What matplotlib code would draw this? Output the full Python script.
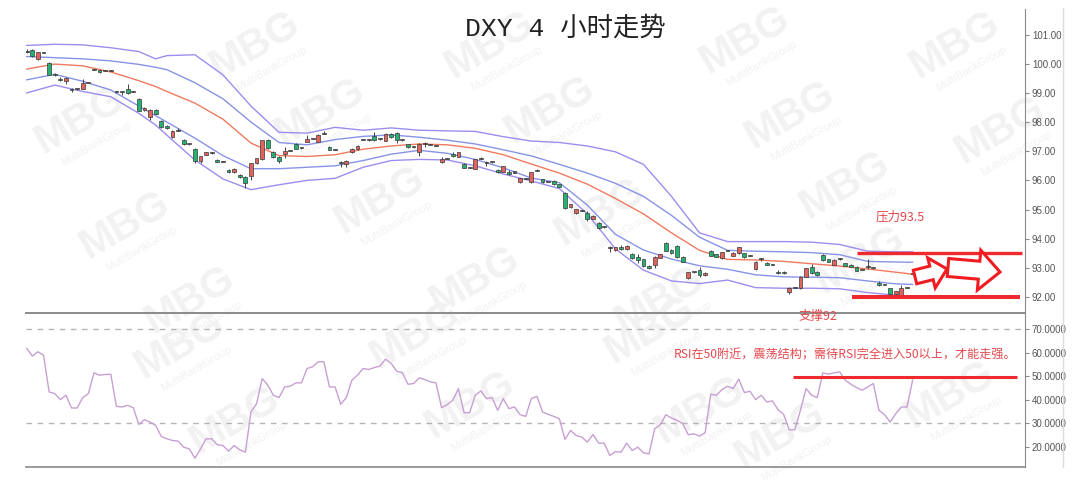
import numpy as np
import matplotlib
matplotlib.use("Agg")
import matplotlib.pyplot as plt
from matplotlib.lines import Line2D
from matplotlib.patches import Polygon

plt.rcParams['font.family'] = ['Liberation Sans', 'Noto Sans CJK SC']

# DXY 4H candles
opens = [100.44, 100.46, 100.16, 100.39, 100.03, 99.66, 99.48, 99.40, 99.12, 99.14,
         99.14, 99.35, 99.81, 99.80, 99.77, 99.77, 99.04, 99.03, 99.13, 99.04,
         98.79, 98.40, 98.19, 98.42, 98.04, 97.87, 97.48, 97.72, 97.39, 97.25,
         97.08, 96.65, 96.88, 96.94, 96.70, 96.65, 96.36, 96.28, 96.19, 96.10,
         96.15, 96.59, 96.74, 97.39, 96.96, 96.80, 96.90, 97.02, 97.24, 97.11,
         97.33, 97.44, 97.33, 97.61, 97.16, 97.06, 96.60, 96.56, 96.97, 97.07,
         97.40, 97.38, 97.53, 97.42, 97.36, 97.59, 97.64, 97.38, 97.24, 97.14,
         96.97, 97.25, 97.23, 97.20, 96.62, 96.75, 96.90, 96.81, 96.57, 96.45,
         96.40, 96.75, 96.60, 96.63, 96.36, 96.30, 96.30, 96.28, 95.94, 96.07,
         95.94, 96.34, 96.04, 95.95, 95.98, 95.87, 95.58, 95.07, 94.87, 94.97,
         94.89, 94.68, 94.55, 94.40, 93.68, 93.61, 93.70, 93.63, 93.49, 93.38,
         93.29, 93.06, 93.10, 93.35, 93.86, 93.61, 93.76, 93.38, 92.64, 92.85,
         92.92, 92.75, 93.58, 93.46, 93.33, 93.59, 93.41, 93.50, 93.50, 93.42,
         92.96, 93.30, 93.15, 93.11, 92.87, 92.87, 92.16, 92.33, 92.30, 92.70,
         93.04, 92.87, 93.44, 93.29, 93.10, 93.30, 93.15, 93.10, 93.04, 92.93,
         93.05, 92.99, 92.49, 92.42, 92.30, 92.10, 92.03, 92.33, 92.79]
closes = [100.42, 100.28, 100.39, 100.38, 99.63, 99.60, 99.44, 99.51, 99.10, 99.13,
          99.34, 99.37, 99.80, 99.72, 99.76, 99.76, 99.03, 99.02, 99.00, 99.03,
          98.39, 98.50, 98.42, 98.29, 97.83, 97.79, 97.70, 97.71, 97.24, 97.24,
          96.65, 96.82, 96.96, 96.93, 96.64, 96.64, 96.28, 96.40, 96.10, 95.92,
          96.59, 96.76, 97.37, 97.11, 96.80, 96.65, 97.01, 97.01, 97.09, 97.10,
          97.43, 97.43, 97.56, 97.60, 97.05, 97.05, 96.59, 96.68, 97.08, 97.19,
          97.39, 97.37, 97.37, 97.41, 97.59, 97.49, 97.39, 97.37, 97.13, 97.13,
          97.24, 97.24, 97.22, 97.19, 96.73, 96.74, 96.82, 96.96, 96.44, 96.44,
          96.73, 96.74, 96.59, 96.62, 96.28, 96.48, 96.22, 96.27, 96.07, 96.06,
          96.28, 96.33, 95.94, 95.94, 95.87, 95.79, 95.04, 95.18, 95.01, 94.96,
          94.67, 94.79, 94.36, 94.39, 93.67, 93.70, 93.63, 93.76, 93.33, 93.27,
          93.06, 92.98, 93.36, 93.46, 93.59, 93.50, 93.36, 93.21, 92.84, 92.84,
          92.75, 92.83, 93.41, 93.38, 93.53, 93.58, 93.52, 93.70, 93.36, 93.41,
          93.21, 93.29, 93.10, 93.10, 92.81, 92.81, 92.32, 92.32, 92.70, 92.98,
          92.81, 92.75, 93.27, 93.21, 93.27, 93.29, 93.07, 93.04, 92.90, 92.92,
          93.04, 92.98, 92.41, 92.41, 92.10, 92.20, 92.32, 92.32, 92.78]
highs = [100.50, 100.50, 100.41, 100.41, 100.05, 99.68, 99.55, 99.53, 99.18, 99.15,
         99.48, 99.38, 99.83, 99.82, 99.78, 99.78, 99.07, 99.04, 99.32, 99.05,
         98.81, 98.52, 98.44, 98.45, 98.06, 97.89, 97.72, 97.80, 97.41, 97.26,
         97.10, 96.84, 96.98, 96.96, 96.72, 96.66, 96.40, 96.42, 96.21, 96.14,
         96.61, 96.78, 97.40, 97.41, 97.02, 96.82, 97.15, 97.03, 97.27, 97.12,
         97.55, 97.45, 97.60, 97.68, 97.18, 97.07, 96.67, 96.70, 97.10, 97.21,
         97.41, 97.39, 97.65, 97.43, 97.61, 97.61, 97.67, 97.39, 97.26, 97.15,
         97.27, 97.30, 97.24, 97.21, 96.80, 96.76, 96.97, 96.98, 96.59, 96.46,
         96.75, 96.80, 96.67, 96.64, 96.38, 96.50, 96.35, 96.29, 96.09, 96.08,
         96.30, 96.40, 96.06, 95.96, 96.00, 95.89, 95.60, 95.20, 95.03, 95.00,
         94.95, 94.81, 94.57, 94.41, 93.76, 93.72, 93.77, 93.78, 93.51, 93.49,
         93.31, 93.08, 93.40, 93.48, 93.88, 93.63, 93.78, 93.40, 92.86, 92.86,
         93.04, 92.85, 93.62, 93.48, 93.55, 93.62, 93.54, 93.72, 93.52, 93.45,
         93.23, 93.35, 93.20, 93.12, 92.92, 92.89, 92.34, 92.34, 92.72, 93.00,
         93.12, 92.89, 93.47, 93.31, 93.29, 93.32, 93.17, 93.12, 93.06, 92.94,
         93.30, 93.00, 92.55, 92.43, 92.32, 92.22, 92.40, 92.34, 92.80]
lows = [100.38, 100.25, 100.12, 100.36, 99.60, 99.58, 99.42, 99.32, 99.02, 99.11,
        99.12, 99.34, 99.78, 99.70, 99.75, 99.75, 98.99, 98.92, 98.98, 99.02,
        98.37, 98.38, 98.08, 98.27, 97.81, 97.77, 97.45, 97.70, 97.22, 97.23,
        96.60, 96.60, 96.86, 96.91, 96.62, 96.63, 96.26, 96.26, 96.08, 95.74,
        96.00, 96.57, 96.70, 97.09, 96.78, 96.60, 96.78, 97.00, 97.07, 97.09,
        97.30, 97.42, 97.30, 97.58, 97.03, 97.04, 96.45, 96.45, 96.95, 97.05,
        97.38, 97.36, 97.35, 97.40, 97.34, 97.47, 97.27, 97.36, 97.11, 97.12,
        96.85, 97.15, 97.21, 97.18, 96.60, 96.73, 96.80, 96.79, 96.42, 96.43,
        96.38, 96.73, 96.50, 96.61, 96.26, 96.28, 96.18, 96.26, 95.92, 96.05,
        95.92, 96.31, 95.92, 95.93, 95.85, 95.77, 95.02, 95.05, 94.85, 94.95,
        94.60, 94.66, 94.34, 94.37, 93.55, 93.59, 93.61, 93.61, 93.31, 93.15,
        93.04, 92.96, 93.00, 93.33, 93.57, 93.48, 93.34, 93.19, 92.60, 92.83,
        92.70, 92.73, 93.39, 93.36, 93.31, 93.57, 93.39, 93.48, 93.34, 93.40,
        92.94, 93.25, 93.08, 93.09, 92.79, 92.79, 92.10, 92.31, 92.28, 92.68,
        92.79, 92.73, 93.25, 93.19, 93.08, 93.28, 93.05, 93.02, 92.88, 92.91,
        92.95, 92.97, 92.38, 92.40, 92.08, 92.08, 92.00, 92.31, 92.77]

# band lines (outer / inner / middle), sampled at these candle numbers
band_idx = [0, 5, 10, 15, 20, 23, 25, 30, 35, 40, 45, 50, 55, 60, 65, 70, 75, 80, 85,
            90, 95, 100, 105, 110, 115, 120, 125, 130, 135, 140, 145, 150, 155, 158]
outer_up = [100.63, 100.67, 100.65, 100.55, 100.42, 100.17, 100.28, 100.31, 99.62, 98.55,
            97.65, 97.62, 97.82, 97.72, 97.80, 97.72, 97.70, 97.68, 97.50, 97.35,
            97.30, 97.18, 96.98, 96.55, 95.45, 94.20, 93.90, 93.90, 93.90, 93.88,
            93.80, 93.57, 93.55, 93.55]
inner_up = [100.25, 100.21, 100.17, 100.10, 99.98, 99.88, 99.80, 99.35, 98.80, 98.00,
            97.30, 97.22, 97.40, 97.51, 97.56, 97.48, 97.38, 97.25, 97.05, 96.84,
            96.55, 96.25, 95.90, 95.45, 94.80, 94.05, 93.60, 93.57, 93.55, 93.52,
            93.45, 93.22, 93.20, 93.19]
middle = [99.82, 99.99, 99.93, 99.72, 99.42, 99.22, 99.05, 98.65, 98.10, 97.28,
          96.85, 96.82, 96.88, 97.07, 97.18, 97.25, 97.22, 97.10, 96.88, 96.56,
          96.25, 95.87, 95.38, 94.85, 94.20, 93.60, 93.29, 93.27, 93.22, 93.14,
          93.06, 92.96, 92.85, 92.78]
inner_lo = [99.45, 99.64, 99.40, 99.10, 98.55, 98.22, 98.00, 97.45, 96.85, 96.40,
            96.40, 96.45, 96.50, 96.68, 96.90, 97.03, 96.93, 96.72, 96.43, 96.08,
            95.92, 95.15, 94.15, 93.61, 93.30, 93.07, 92.95, 92.76, 92.69, 92.68,
            92.66, 92.55, 92.45, 92.43]
outer_lo = [99.00, 99.27, 99.05, 98.87, 98.30, 97.90, 97.55, 96.70, 96.05, 95.68,
            95.85, 96.00, 96.07, 96.45, 96.68, 96.72, 96.70, 96.50, 96.22, 95.98,
            95.72, 94.85, 93.65, 92.92, 92.55, 92.46, 92.58, 92.32, 92.30, 92.30,
            92.28, 92.15, 92.06, 92.01]

rsi = [61.78, 58.52, 60.36, 58.94, 43.34, 42.63, 40.08, 41.92, 36.53, 36.53,
       40.93, 42.63, 51.42, 50.43, 50.71, 50.86, 37.24, 36.96, 37.66, 36.67,
       29.58, 31.57, 30.57, 29.16, 24.47, 23.48, 22.77, 22.49, 19.93, 19.23,
       15.25, 19.23, 23.48, 23.48, 20.93, 20.64, 18.23, 20.64, 18.80, 17.80,
       34.83, 38.37, 49.01, 46.18, 41.92, 40.93, 45.47, 45.75, 47.17, 47.17,
       53.27, 53.98, 56.11, 56.11, 45.47, 45.47, 38.09, 40.93, 48.30, 50.43,
       53.27, 52.84, 53.69, 54.26, 57.24, 55.40, 52.13, 51.42, 46.60, 46.88,
       49.29, 48.59, 47.59, 47.17, 36.67, 37.95, 39.79, 44.76, 34.54, 34.54,
       41.92, 43.76, 40.50, 40.93, 35.54, 40.50, 36.25, 36.96, 33.69, 32.98,
       40.50, 41.49, 34.83, 33.84, 32.98, 31.99, 23.20, 27.03, 24.90, 24.19,
       22.06, 25.33, 21.64, 21.64, 16.39, 18.09, 17.80, 21.64, 18.52, 19.93,
       17.52, 17.09, 27.73, 29.44, 33.69, 32.27, 31.28, 29.86, 25.18, 25.61,
       24.62, 26.03, 42.35, 41.92, 44.33, 45.75, 44.76, 48.73, 43.06, 43.62,
       40.08, 41.92, 39.08, 39.51, 35.82, 33.84, 27.31, 27.31, 35.54, 44.76,
       41.92, 40.93, 51.42, 50.86, 51.42, 51.85, 48.30, 46.60, 45.18, 44.05,
       45.47, 46.89, 35.54, 33.69, 30.57, 34.12, 36.96, 36.96, 48.30]

price_ticks = [92, 93, 94, 95, 96, 97, 98, 99, 100, 101]
rsi_ticks = [20, 30, 40, 50, 60, 70]
resistance = 93.5
support = 92.0
rsi_mid = 49.5

RED = '#e3625b'
GREEN = '#25b172'
MARK = '#ee2a2e'
NOTE = '#e5484d'

W, H = 1080, 484
fig = plt.figure(figsize=(W / 100, H / 100), dpi=100)

# faint watermark, under everything
wm = [(80, 120), (255, 45), (320, 112), (125, 225), (190, 300), (490, 45), (550, 110),
      (380, 200), (475, 280), (600, 212), (660, 300), (745, 40), (790, 115), (955, 45),
      (1000, 130), (845, 185), (180, 345), (235, 420), (415, 335), (470, 405),
      (650, 330), (700, 410), (950, 395), (860, 260), (780, 435)]
for cx, cy in wm:
    fig.text(cx / W, 1 - cy / H, 'MBG', fontsize=30, fontweight='bold', color='#f2f2f2',
             rotation=30, ha='center', va='center', zorder=-2)
    fig.text((cx + 16) / W, 1 - (cy + 24) / H, 'MultiBankGroup', fontsize=8, color='#f2f2f2',
             rotation=30, ha='center', va='center', zorder=-2)

ax = fig.add_axes([26 / W, 1 - 313 / H, 999 / W, 304 / H])
ax2 = fig.add_axes([26 / W, 1 - 467 / H, 999 / W, 154 / H])
for a in (ax, ax2):
    a.patch.set_alpha(0)
    a.set_xlim(-0.125, 178.05)
    a.set_xticks([])
    a.yaxis.tick_right()
    a.spines['left'].set_visible(False)
    a.spines['right'].set_color('#8a8a8a')
    a.tick_params(axis='y', direction='out', length=3, color='#8a8a8a',
                  labelsize=7, labelcolor='#555555', pad=2)

# main panel
o = np.array(opens)
c = np.array(closes)
x = np.arange(len(o))
body_lo = np.minimum(o, c)
body_h = np.maximum(np.abs(c - o), 0.035)
cols = np.where(c > o, RED, GREEN)
cols = np.where(np.abs(c - o) < 0.02, '#555555', cols)
ax.vlines(x, lows, highs, color='#444444', lw=0.7, zorder=3)
ax.bar(x, body_h, bottom=body_lo, width=0.68, color=cols, edgecolor='#3a3a3a',
       linewidth=0.5, zorder=4)

ax.plot(band_idx, outer_up, color='#9d8def', lw=1.0, zorder=2)
ax.plot(band_idx, outer_lo, color='#9d8def', lw=1.0, zorder=2)
ax.plot(band_idx, inner_up, color='#8794e6', lw=1.0, zorder=2)
ax.plot(band_idx, inner_lo, color='#8794e6', lw=1.0, zorder=2)
ax.plot(band_idx, middle, color='#ef7a5f', lw=1.0, zorder=2)

ax.set_ylim(91.45, 101.88)
ax.set_yticks(price_ticks)
ax.set_yticklabels(['%.2f' % v for v in price_ticks])
ax.spines['top'].set_visible(False)
ax.spines['bottom'].set_visible(False)

ax.plot([148.1, 177.5], [resistance, resistance], color=MARK, lw=2.4, zorder=6,
        solid_capstyle='butt')
ax.plot([147.2, 177.2], [support, support], color=MARK, lw=2.9, zorder=6,
        solid_capstyle='butt')
ax.text(155.8, 94.75, '压力93.5', color=NOTE, fontsize=9, ha='center', va='center',
        family=['Noto Sans CJK SC'])
fig.text(818 / W, 1 - 316 / H, '支撑92', color=NOTE, fontsize=9, ha='center',
         va='center', family=['Noto Sans CJK SC'], zorder=5)


def arrow_poly(x0, y0, x1, y1, bw, hw, hl):
    p0 = np.array([x0, y0], float)
    p1 = np.array([x1, y1], float)
    u = (p1 - p0) / np.hypot(*(p1 - p0))
    n = np.array([-u[1], u[0]])
    pb = p1 - u * hl
    pts = [p0 + n * bw / 2, pb + n * bw / 2, pb + n * hw / 2, p1,
           pb - n * hw / 2, pb - n * bw / 2, p0 - n * bw / 2]
    return [(px / W, 1 - py / H) for px, py in pts]


for a_args in [(915, 277, 947, 269, 14, 31, 16), (948, 267.5, 1000, 272, 18, 40, 21)]:
    fig.add_artist(Polygon(arrow_poly(*a_args), closed=True, facecolor='white',
                           edgecolor='#f01c22', lw=2.2, transform=fig.transFigure,
                           zorder=7))

# RSI panel
ax2.plot(x, rsi, color='#c89fd4', lw=1.0, zorder=3)
ax2.axhline(70, color='#b5b5b5', lw=1, dashes=(4, 4))
ax2.axhline(30, color='#b5b5b5', lw=1, dashes=(4, 4))
ax2.set_ylim(11.53, 76.78)
ax2.set_yticks(rsi_ticks)
ax2.set_yticklabels(['%.4f' % v for v in rsi_ticks])
ax2.spines['top'].set_color('#8a8a8a')
ax2.spines['top'].set_linewidth(1.4)
ax2.spines['bottom'].set_color('#8a8a8a')
ax2.spines['bottom'].set_linewidth(1.2)
ax2.plot([136.7, 176.6], [rsi_mid, rsi_mid], color=MARK, lw=2.2, zorder=6,
         solid_capstyle='butt')
ax2.text(145.9, 59.0, 'RSI在50附近，震荡结构；需待RSI完全进入50以上，才能走强。',
         color=NOTE, fontsize=8.7, ha='center', va='center', family=['Noto Sans CJK SC'])

fig.add_artist(Line2D([1063 / W, 1063 / W], [1 - 467 / H, 1 - 8 / H], color='#dddddd',
                      lw=1, transform=fig.transFigure))

fig.text(565 / W, 1 - 28 / H, 'DXY 4 小时走势', fontsize=19, ha='center', va='center',
         family=['Liberation Mono', 'Noto Sans CJK SC'], fontweight='light', color='#222222')

fig.savefig('out.png', dpi=100)
